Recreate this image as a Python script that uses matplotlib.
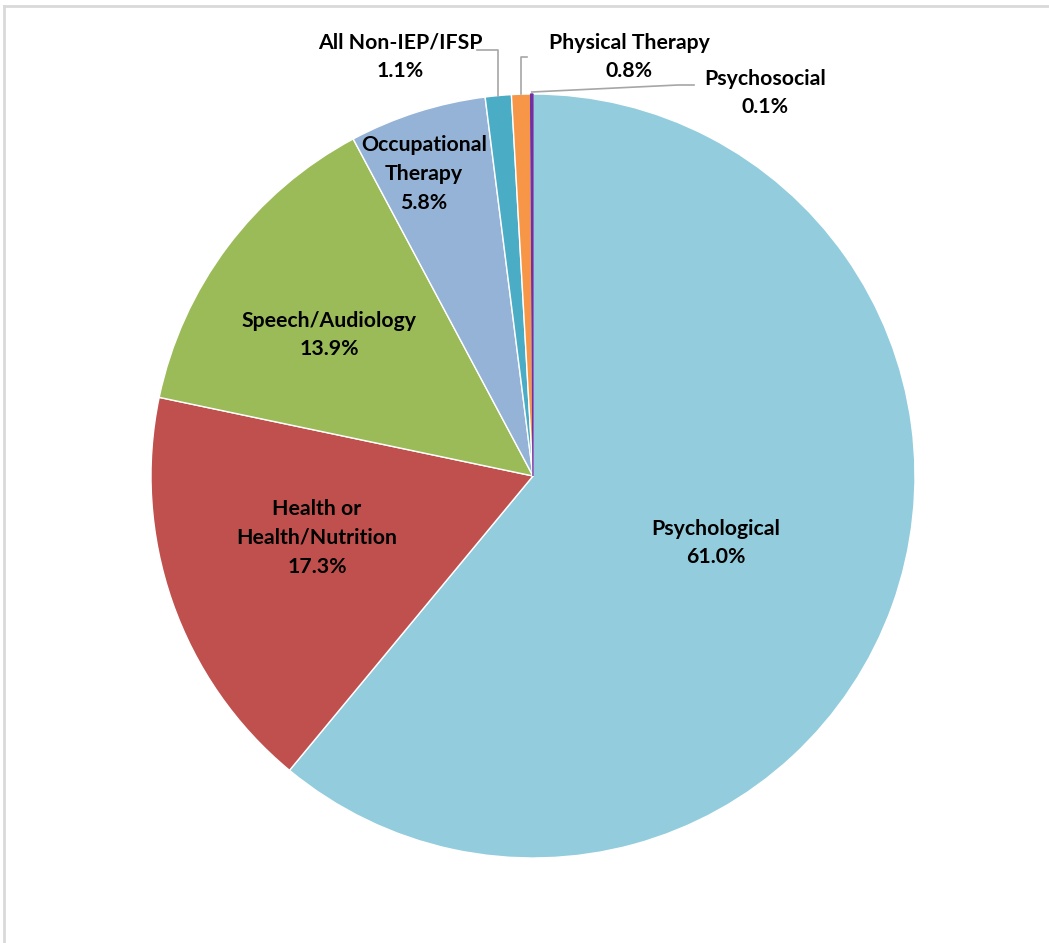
import matplotlib.pyplot as plt
import numpy as np

labels = ['Psychological', 'Health or\nHealth/Nutrition', 'Speech/Audiology',
          'Occupational\nTherapy', 'All Non-IEP/IFSP', 'Physical Therapy', 'Psychosocial']
shares = [61.0, 17.3, 13.9, 5.8, 1.1, 0.8, 0.1]
colors = ['#93CDDD', '#C0504D', '#9BBB59', '#95B3D7', '#4BACC6', '#F79646', '#7030A0']

W, H = 1049, 943
fig = plt.figure(figsize=(W / 100, H / 100), dpi=100)
ax = fig.add_axes([0, 0, 1, 1])

cx, cy, r = 533, H - 476, 382
wedges, _ = ax.pie(shares, colors=colors, startangle=90, counterclock=False,
                   center=(cx, cy), radius=r,
                   wedgeprops=dict(edgecolor='white', linewidth=1))
wedges[6].set_edgecolor(colors[6])
ax.set_xlim(0, W)
ax.set_ylim(0, H)
ax.set_aspect('equal')
ax.axis('off')

# frame (only top and left visible in the original)
ax.plot([4, W], [H - 6, H - 6], color='#D9D9D9', lw=2)
ax.plot([4, 4], [0, H - 6], color='#D9D9D9', lw=2)

font = dict(family='Lato', fontweight='bold', fontsize=15.3, ha='center', va='center',
            linespacing=1.55)
# label centres in pixels (x, y from top)
pos = [(716, 543), (317, 538), (329, 335), (424, 174), (400, 57), (629, 57), (765, 93)]
for lab, val, (px, py) in zip(labels, shares, pos):
    ax.text(px, H - py, f'{lab}\n{val:.1f}%', **font)

def edge_point(w, rr=r):
    a = np.deg2rad((w.theta1 + w.theta2) / 2)
    return cx + rr * np.cos(a), cy + rr * np.sin(a)

lc = dict(color='#A6A6A6', lw=1.2)
# All Non-IEP/IFSP
x0, y0 = edge_point(wedges[4])
ax.plot([477, x0, x0], [H - 50, H - 50, y0], **lc)
# Physical Therapy
x0, y0 = edge_point(wedges[5])
ax.plot([527, x0, x0], [H - 57, H - 57, y0], **lc)
# Psychosocial
x0, y0 = edge_point(wedges[6], r + 2)
ax.plot([x0, 678, 694], [y0, H - 85, H - 85], **lc)

fig.savefig('out.png', dpi=100, facecolor='white')
